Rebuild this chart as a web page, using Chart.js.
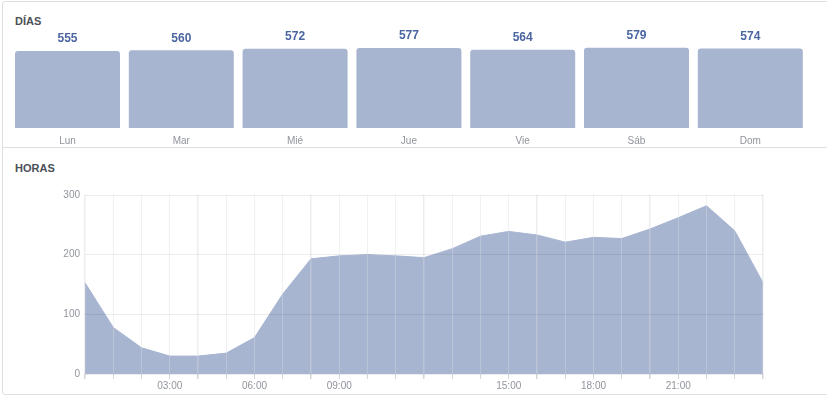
<!DOCTYPE html>
<html>
<head>
<meta charset="utf-8">
<script src="https://cdn.jsdelivr.net/npm/chart.js@4"></script>
<style>
  html, body { margin: 0; padding: 0; background: #ffffff; width: 827px; height: 397px; overflow: hidden; }
  #frame { position: absolute; left: 2px; top: 1px; width: 840px; height: 394px; border: 1px solid #dddfe2; border-radius: 3px; box-sizing: border-box; }
  #sep { position: absolute; left: 2px; top: 147px; width: 840px; height: 1px; background: #dddfe2; }
  .title { position: absolute; left: 15px; font: bold 11px "Liberation Sans", Arial, Helvetica, sans-serif; color: #4b4f56; line-height: 12px; }
  canvas { position: absolute; left: 0; }
</style>
</head>
<body>
<div id="frame"></div>
<div id="sep"></div>
<div class="title" style="top:15px">DÍAS</div>
<div class="title" style="top:162px">HORAS</div>
<canvas id="days" width="827" height="156" style="top:0"></canvas>
<canvas id="hours" width="827" height="246" style="top:148px"></canvas>
<script>
// ---- data ----
const dayLabels = ['Lun', 'Mar', 'Mié', 'Jue', 'Vie', 'Sáb', 'Dom'];
const dayValues = [555, 560, 572, 577, 564, 579, 574];

const hourLabels = ['00:00','01:00','02:00','03:00','04:00','05:00','06:00','07:00','08:00','09:00','10:00','11:00',
                    '12:00','13:00','14:00','15:00','16:00','17:00','18:00','19:00','20:00','21:00','22:00','23:00','24:00'];
const hourValues = [153, 78, 44, 30, 30, 35, 61, 134, 193, 198, 200, 198,
                    195, 210, 231, 239, 233, 221, 229, 227, 243, 262, 282, 240, 153];
const hourTickLabels = ['03:00', '06:00', '09:00', '15:00', '18:00', '21:00'];
const hourYTicks = [0, 100, 200, 300];

// ---- styles ----
Chart.defaults.font.family = '"Liberation Sans", Arial, Helvetica, sans-serif';
Chart.defaults.font.size = 10;
Chart.defaults.color = '#90949c';
const fillColor = '#a8b5d1';

const valueLabels = {
  id: 'valueLabels',
  afterDatasetsDraw(chart) {
    const ctx = chart.ctx;
    const meta = chart.getDatasetMeta(0);
    ctx.save();
    ctx.font = 'bold 12px "Liberation Sans", Arial, Helvetica, sans-serif';
    ctx.fillStyle = '#4b65a0';
    ctx.textAlign = 'center';
    ctx.textBaseline = 'middle';
    meta.data.forEach((bar, i) => {
      ctx.fillText(String(chart.data.datasets[0].data[i]), bar.x, bar.y - 12);
    });
    ctx.restore();
  }
};

new Chart(document.getElementById('days'), {
  type: 'bar',
  data: {
    labels: dayLabels,
    datasets: [{
      data: dayValues,
      backgroundColor: fillColor,
      borderRadius: 3,
      barPercentage: 0.9227,
      categoryPercentage: 1
    }]
  },
  options: {
    responsive: false,
    devicePixelRatio: 1,
    animation: false,
    layout: { padding: { left: 10.6, right: 19.8, top: 44.8, bottom: 2 } },
    plugins: { legend: { display: false }, tooltip: { enabled: false } },
    scales: {
      x: {
        grid: { display: false, drawTicks: false },
        border: { display: false },
        ticks: { padding: 7, color: '#90949c', font: { size: 10 } }
      },
      y: { display: false, min: 0, max: 600 }
    }
  },
  plugins: [valueLabels]
});

new Chart(document.getElementById('hours'), {
  type: 'line',
  data: {
    labels: hourLabels,
    datasets: [{
      data: hourValues,
      fill: 'origin',
      backgroundColor: fillColor,
      borderColor: fillColor,
      borderWidth: 1,
      pointRadius: 0,
      tension: 0
    }]
  },
  options: {
    responsive: false,
    devicePixelRatio: 1,
    animation: false,
    layout: { padding: { left: 0, right: 64, top: 47, bottom: 1 } },
    plugins: { legend: { display: false }, tooltip: { enabled: false } },
    scales: {
      x: {
        offset: false,
        border: { display: false },
        grid: {
          z: 1,
          color: (c) => (c.index % 4 === 0) ? 'rgba(212,215,222,0.45)' : 'rgba(218,221,227,0.4)',
          lineWidth: (c) => (c.index % 4 === 0) ? 1.5 : 1,
          tickColor: '#d3d6db',
          tickLength: 5
        },
        ticks: {
          autoSkip: false,
          maxRotation: 0,
          padding: 1,
          color: '#90949c',
          font: { size: 10 },
          callback: function (v, i) {
            const l = hourLabels[i];
            return hourTickLabels.includes(l) ? l : '';
          }
        }
      },
      y: {
        min: 0,
        max: 300,
        afterFit: (s) => { s.width = 85; },
        afterBuildTicks: (s) => { s.ticks = hourYTicks.map(v => ({ value: v })); },
        border: { display: false },
        grid: { z: 1, color: 'rgba(0,0,0,0.07)', drawTicks: false },
        ticks: { padding: 5, color: '#90949c', font: { size: 10 } }
      }
    }
  }
});
</script>
</body>
</html>
